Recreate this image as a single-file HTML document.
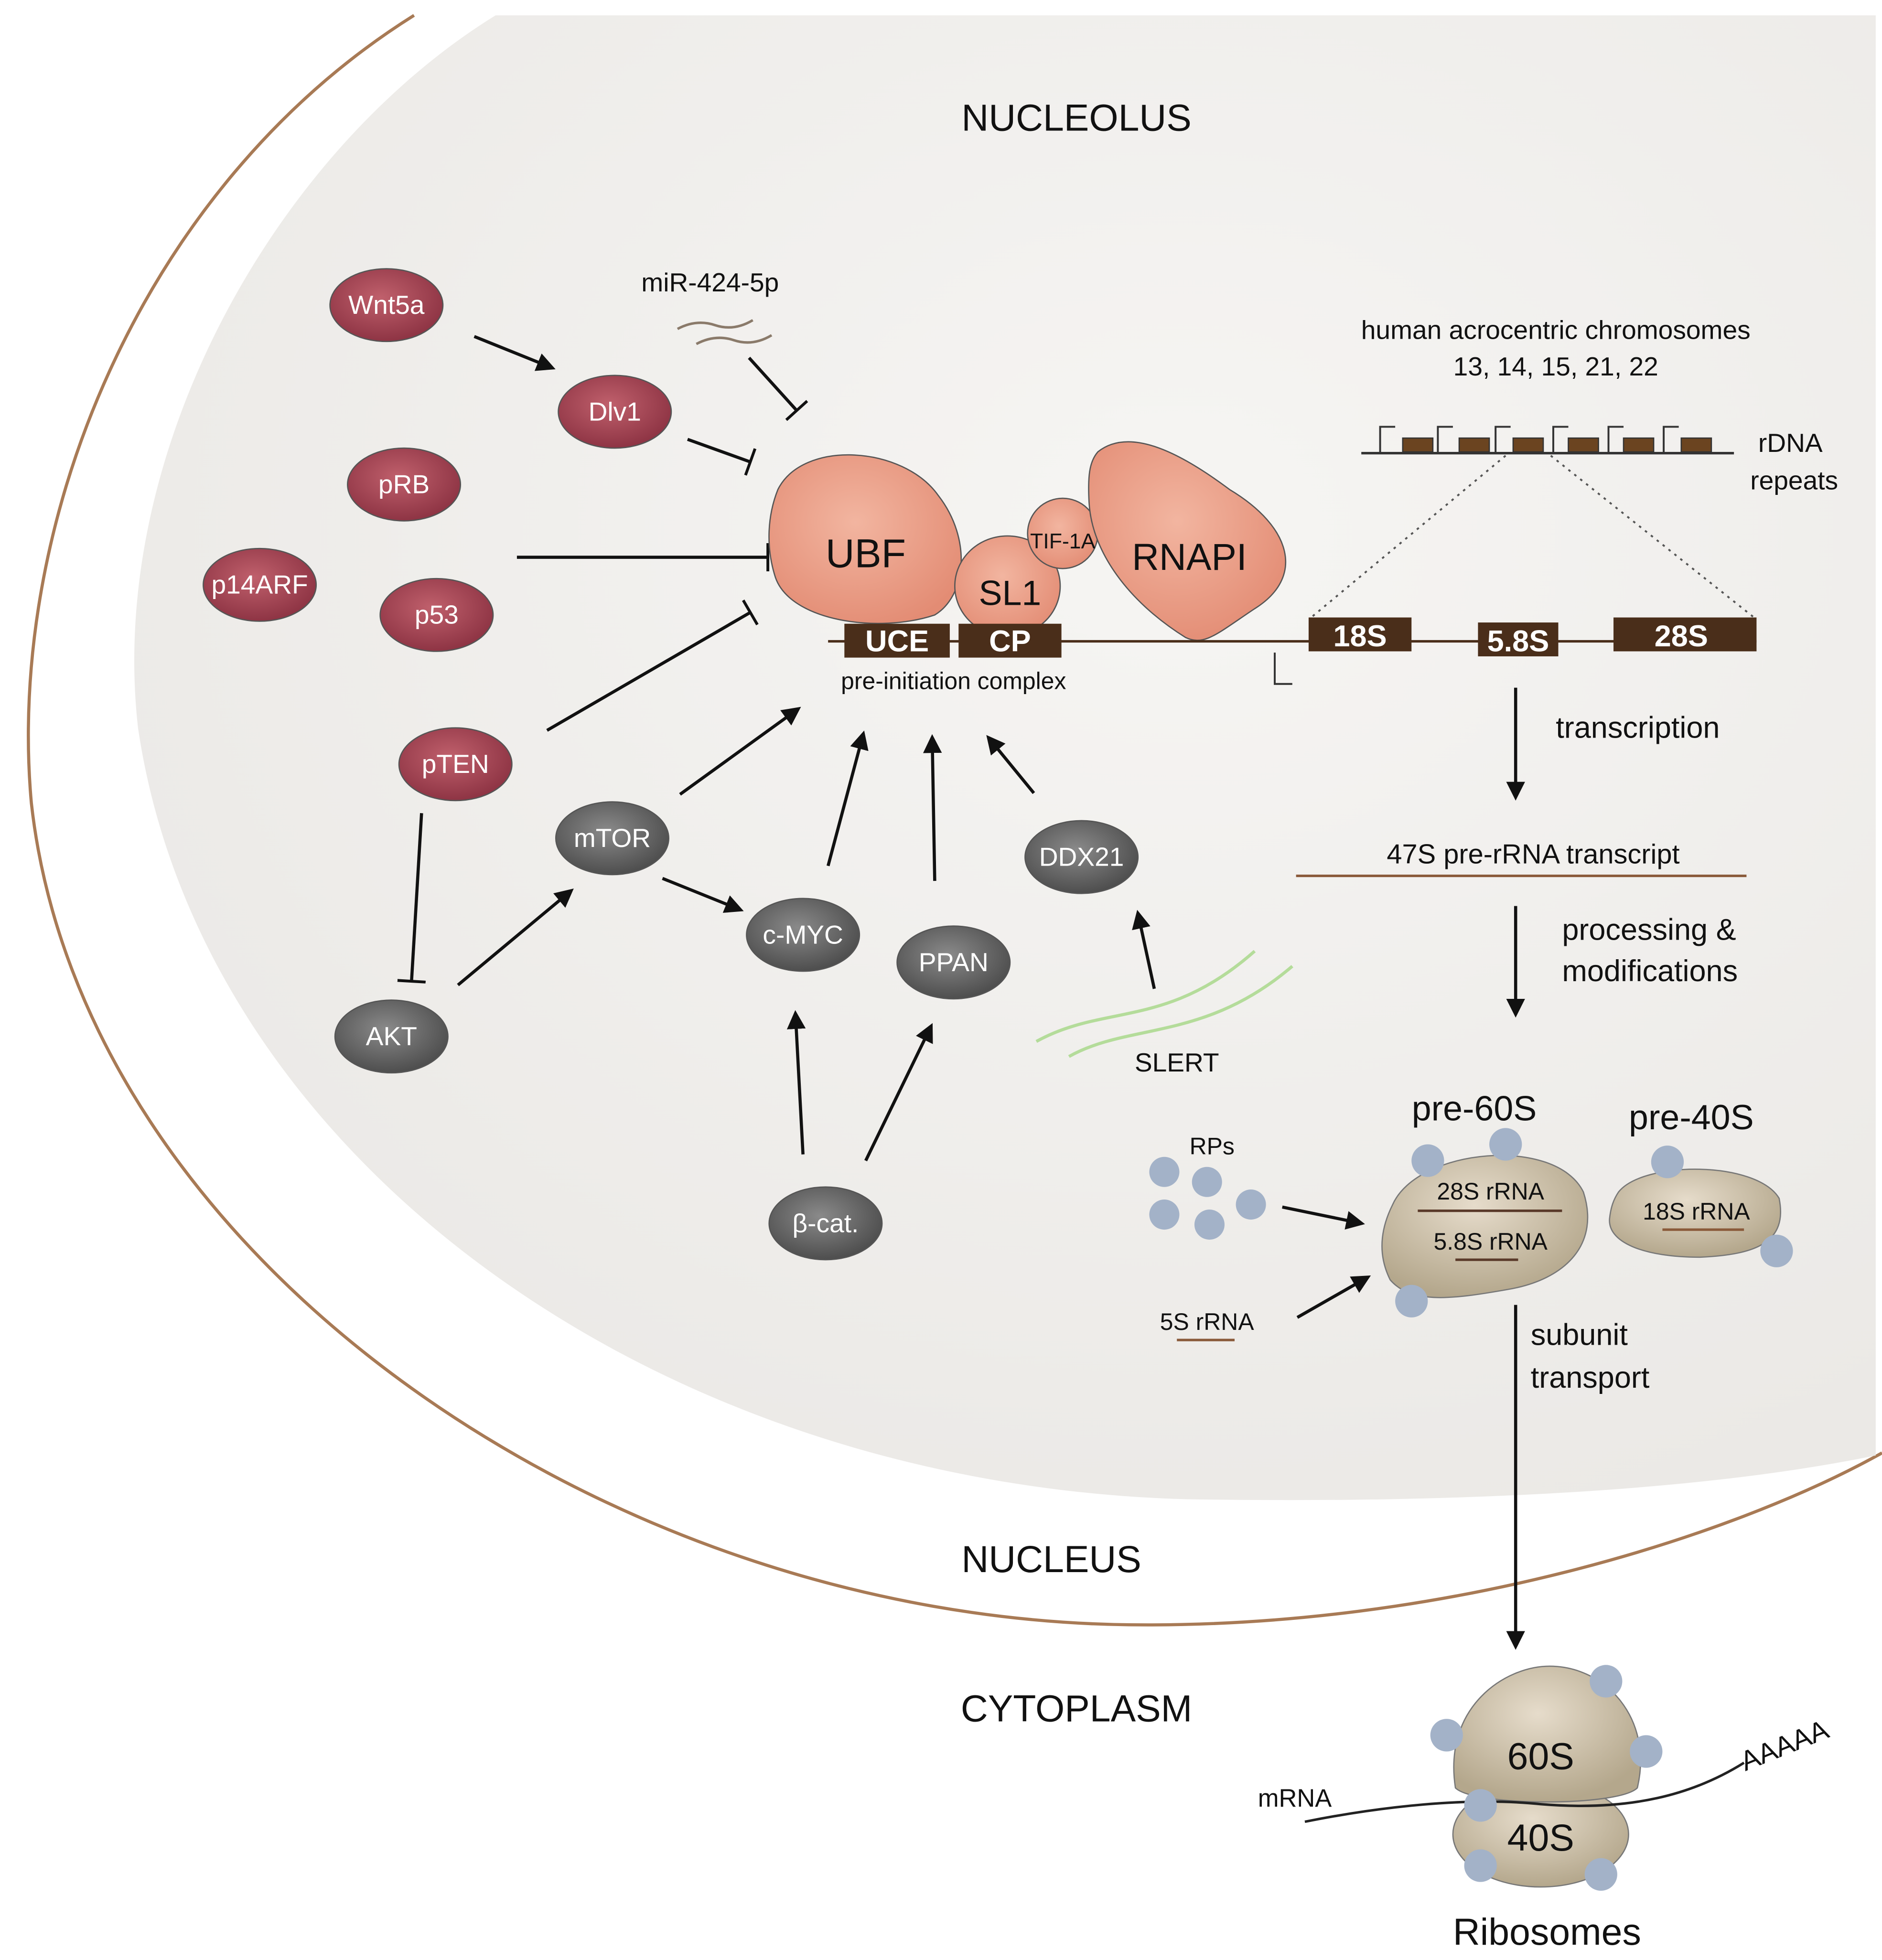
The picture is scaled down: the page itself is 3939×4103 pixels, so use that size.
<!DOCTYPE html>
<html><head><meta charset="utf-8"><style>html,body{margin:0;padding:0;background:#fff}svg{display:block}text{font-family:"Liberation Sans",sans-serif}</style></head><body>
<svg width="3939" height="4103" viewBox="0 0 1500 1562" xmlns="http://www.w3.org/2000/svg">
<defs>
<radialGradient id="red" cx="45%" cy="40%" r="60%"><stop offset="0" stop-color="#c0606c"/><stop offset="1" stop-color="#8e3444"/></radialGradient>
<radialGradient id="gray" cx="45%" cy="40%" r="60%"><stop offset="0" stop-color="#8a8a8a"/><stop offset="1" stop-color="#4e4e4e"/></radialGradient>
<radialGradient id="sal" cx="45%" cy="40%" r="65%"><stop offset="0" stop-color="#f2b5a0"/><stop offset="1" stop-color="#e38c74"/></radialGradient>
<radialGradient id="tan" cx="45%" cy="35%" r="65%"><stop offset="0" stop-color="#e6dccb"/><stop offset="1" stop-color="#b4a78c"/></radialGradient>
<radialGradient id="nuc" cx="60%" cy="35%" r="70%"><stop offset="0" stop-color="#f6f5f3"/><stop offset="1" stop-color="#ebe9e6"/></radialGradient>
<marker id="ar" viewBox="0 0 10 10" refX="8" refY="5" markerWidth="6" markerHeight="6" orient="auto"><path d="M0,0 L10,5 L0,10 z" fill="#111"/></marker>
<marker id="tb" viewBox="0 0 4 20" refX="2" refY="10" markerWidth="3" markerHeight="9" orient="auto"><rect x="1" y="0" width="2" height="20" fill="#111"/></marker>
</defs>
<rect width="1500" height="1562" fill="#fff"/>
<path d="M330,12 C110,150 5,420 25,640 C65,1000 480,1290 900,1295 C1150,1298 1380,1225 1500,1158" fill="none" stroke="#a87a55" stroke-width="2.5"/>
<path d="M395,12 L1495,12 L1495,1160 C1350,1190 1150,1198 950,1195 C520,1185 160,920 110,580 C85,360 220,120 395,12 Z" fill="url(#nuc)"/>
<text x="858" y="104" font-size="30" text-anchor="middle" fill="#111">NUCLEOLUS</text>
<text x="838" y="1253" font-size="30" text-anchor="middle" fill="#111">NUCLEUS</text>
<text x="858" y="1372" font-size="30" text-anchor="middle" fill="#111">CYTOPLASM</text>

<g stroke="#111" stroke-width="2.5" fill="none">
<line x1="378" y1="268" x2="440" y2="293" marker-end="url(#ar)"/>
<line x1="597" y1="285" x2="635" y2="327" marker-end="url(#tb)"/>
<line x1="548" y1="350" x2="598" y2="368" marker-end="url(#tb)"/>
<line x1="412" y1="444" x2="612" y2="444" marker-end="url(#tb)"/>
<line x1="436" y1="582" x2="598" y2="488" marker-end="url(#tb)"/>
<line x1="336" y1="648" x2="328" y2="782" marker-end="url(#tb)"/>
<line x1="365" y1="785" x2="455" y2="710" marker-end="url(#ar)"/>
<line x1="542" y1="633" x2="636" y2="565" marker-end="url(#ar)"/>
<line x1="528" y1="700" x2="590" y2="725" marker-end="url(#ar)"/>
<line x1="660" y1="690" x2="688" y2="585" marker-end="url(#ar)"/>
<line x1="745" y1="702" x2="743" y2="588" marker-end="url(#ar)"/>
<line x1="824" y1="632" x2="788" y2="588" marker-end="url(#ar)"/>
<line x1="920" y1="788" x2="907" y2="728" marker-end="url(#ar)"/>
<line x1="640" y1="920" x2="634" y2="808" marker-end="url(#ar)"/>
<line x1="690" y1="925" x2="742" y2="818" marker-end="url(#ar)"/>
<line x1="1208" y1="548" x2="1208" y2="635" marker-end="url(#ar)"/>
<line x1="1208" y1="722" x2="1208" y2="808" marker-end="url(#ar)"/>
<line x1="1022" y1="962" x2="1085" y2="975" marker-end="url(#ar)"/>
<line x1="1034" y1="1050" x2="1090" y2="1018" marker-end="url(#ar)"/>
<line x1="1208" y1="1040" x2="1208" y2="1312" marker-end="url(#ar)"/>
</g>
<g fill="none" stroke="#8a7a6a" stroke-width="2"><path d="M540,262 q15,-8 30,-3 q15,5 30,-4"/><path d="M555,274 q15,-8 30,-3 q15,5 30,-4"/></g>
<text x="566" y="232" font-size="21" text-anchor="middle" fill="#111">miR-424-5p</text>
<g fill="none" stroke="#b4dc9a" stroke-width="2.5"><path d="M826,830 C880,800 930,820 1000,758"/><path d="M852,842 C900,815 960,830 1030,770"/></g>
<text x="938" y="854" font-size="21" text-anchor="middle" fill="#111">SLERT</text>

<g stroke="#555" stroke-width="1">
<path d="M620,390 C640,350 720,355 748,395 C775,430 770,475 745,490 C700,505 630,495 618,460 C610,435 612,410 620,390Z" fill="url(#sal)"/>
<ellipse cx="803" cy="467" rx="42" ry="40" fill="url(#sal)"/>
<circle cx="847" cy="425" r="28" fill="url(#sal)"/>
<path d="M875,360 C900,340 940,360 980,390 C1030,420 1040,460 1000,485 C970,505 960,515 945,508 C900,480 870,440 868,400 C867,380 868,368 875,360Z" fill="url(#sal)"/>
</g>
<text x="690" y="452" font-size="32" text-anchor="middle" fill="#111">UBF</text>
<text x="805" y="482" font-size="28" text-anchor="middle" fill="#111">SL1</text>
<text x="847" y="437" font-size="17" text-anchor="middle" fill="#111">TIF-1A</text>
<text x="948" y="454" font-size="30" text-anchor="middle" fill="#111">RNAPI</text>
<line x1="660" y1="511" x2="1400" y2="511" stroke="#4a2e1a" stroke-width="2"/>
<g fill="#4a2e1a"><rect x="673" y="497" width="84" height="27"/><rect x="764" y="497" width="82" height="27"/><rect x="1043" y="492" width="82" height="27"/><rect x="1178" y="496" width="64" height="27"/><rect x="1286" y="492" width="114" height="27"/></g>
<g fill="#fff" font-size="24" font-weight="bold" text-anchor="middle"><text x="715" y="519">UCE</text><text x="805" y="519">CP</text><text x="1084" y="515">18S</text><text x="1210" y="519">5.8S</text><text x="1340" y="515">28S</text></g>
<path d="M1016,520 v25 h14" fill="none" stroke="#333" stroke-width="1.5"/>
<text x="760" y="549" font-size="19" text-anchor="middle" fill="#111">pre-initiation complex</text>
<text x="1240" y="270" font-size="21" text-anchor="middle" fill="#111">human acrocentric chromosomes</text>
<text x="1240" y="299" font-size="21" text-anchor="middle" fill="#111">13, 14, 15, 21, 22</text>
<line x1="1085" y1="361" x2="1382" y2="361" stroke="#333" stroke-width="2"/>
<g fill="#6b4420" stroke="#333" stroke-width="1"><rect x="1118" y="349" width="24" height="11"/><rect x="1163" y="349" width="24" height="11"/><rect x="1206" y="349" width="24" height="11"/><rect x="1250" y="349" width="24" height="11"/><rect x="1294" y="349" width="24" height="11"/><rect x="1340" y="349" width="24" height="11"/></g>
<g fill="none" stroke="#333" stroke-width="1.5"><path d="M1100,360 v-20 h12"/><path d="M1146,360 v-20 h12"/><path d="M1192,360 v-20 h12"/><path d="M1238,360 v-20 h12"/><path d="M1282,360 v-20 h12"/><path d="M1326,360 v-20 h12"/></g>
<g stroke="#555" stroke-width="1.5" stroke-dasharray="2,4"><line x1="1200" y1="363" x2="1045" y2="492"/><line x1="1236" y1="363" x2="1398" y2="492"/></g>
<text x="1427" y="360" font-size="21" text-anchor="middle" fill="#111">rDNA</text>
<text x="1430" y="390" font-size="21" text-anchor="middle" fill="#111">repeats</text>
<text x="1240" y="588" font-size="24" fill="#111">transcription</text>
<text x="1222" y="688" font-size="22" text-anchor="middle" fill="#111">47S pre-rRNA transcript</text>
<line x1="1033" y1="698" x2="1392" y2="698" stroke="#8a5a3a" stroke-width="2"/>
<text x="1245" y="749" font-size="24" fill="#111">processing &amp;</text>
<text x="1245" y="782" font-size="24" fill="#111">modifications</text>
<text x="1220" y="1072" font-size="24" fill="#111">subunit</text>
<text x="1220" y="1106" font-size="24" fill="#111">transport</text>

<g stroke="#555" stroke-width="1">
<g fill="url(#red)">
<ellipse cx="308" cy="243" rx="45" ry="29"/><ellipse cx="490" cy="328" rx="45" ry="29"/><ellipse cx="322" cy="386" rx="45" ry="29"/><ellipse cx="207" cy="466" rx="45" ry="29"/><ellipse cx="348" cy="490" rx="45" ry="29"/><ellipse cx="363" cy="609" rx="45" ry="29"/></g>
<g fill="url(#gray)">
<ellipse cx="488" cy="668" rx="45" ry="29"/><ellipse cx="640" cy="745" rx="45" ry="29"/><ellipse cx="760" cy="767" rx="45" ry="29"/><ellipse cx="862" cy="683" rx="45" ry="29"/><ellipse cx="312" cy="826" rx="45" ry="29"/><ellipse cx="658" cy="975" rx="45" ry="29"/></g>
</g>
<g font-size="21" text-anchor="middle" fill="#fff">
<text x="308" y="250">Wnt5a</text><text x="490" y="335">Dlv1</text><text x="322" y="393">pRB</text><text x="207" y="473">p14ARF</text><text x="348" y="497">p53</text><text x="363" y="616">pTEN</text>
<text x="488" y="675">mTOR</text><text x="640" y="752">c-MYC</text><text x="760" y="774">PPAN</text><text x="862" y="690">DDX21</text><text x="312" y="833">AKT</text><text x="658" y="982">β-cat.</text></g>

<g fill="#a3b2c8"><circle cx="928" cy="934" r="12"/><circle cx="962" cy="942" r="12"/><circle cx="928" cy="968" r="12"/><circle cx="964" cy="976" r="12"/><circle cx="997" cy="960" r="12"/></g>
<text x="966" y="920" font-size="19" text-anchor="middle" fill="#111">RPs</text>
<text x="962" y="1060" font-size="19" text-anchor="middle" fill="#111">5S rRNA</text>
<line x1="938" y1="1068" x2="984" y2="1068" stroke="#8a5a3a" stroke-width="2"/>
<path d="M1110,960 C1130,915 1240,905 1262,950 C1275,990 1250,1020 1200,1028 C1160,1035 1125,1040 1108,1020 C1098,1000 1100,980 1110,960Z" fill="url(#tan)" stroke="#777"/>
<path d="M1290,950 C1310,925 1400,925 1418,955 C1425,990 1400,1000 1355,1002 C1310,1002 1280,990 1283,970 C1284,962 1286,956 1290,950Z" fill="url(#tan)" stroke="#777"/>
<text x="1175" y="893" font-size="28" text-anchor="middle" fill="#111">pre-60S</text>
<text x="1348" y="900" font-size="28" text-anchor="middle" fill="#111">pre-40S</text>
<text x="1188" y="956" font-size="19" text-anchor="middle" fill="#111">28S rRNA</text>
<line x1="1130" y1="965" x2="1245" y2="965" stroke="#5a3a2a" stroke-width="2"/>
<text x="1188" y="996" font-size="19" text-anchor="middle" fill="#111">5.8S rRNA</text>
<line x1="1160" y1="1004" x2="1210" y2="1004" stroke="#5a3a2a" stroke-width="2"/>
<text x="1352" y="972" font-size="19" text-anchor="middle" fill="#111">18S rRNA</text>
<line x1="1325" y1="980" x2="1390" y2="980" stroke="#8a5a3a" stroke-width="2"/>
<g fill="#a3b2c8"><circle cx="1138" cy="925" r="13"/><circle cx="1200" cy="912" r="13"/><circle cx="1125" cy="1037" r="13"/><circle cx="1329" cy="926" r="13"/><circle cx="1416" cy="997" r="13"/></g>

<ellipse cx="1228" cy="1462" rx="70" ry="42" fill="url(#tan)" stroke="#777"/>
<path d="M1160,1425 C1150,1360 1200,1328 1235,1328 C1280,1328 1318,1370 1305,1425 C1290,1440 1175,1440 1160,1425Z" fill="url(#tan)" stroke="#777"/>
<path d="M1040,1452 C1100,1440 1170,1432 1228,1438 C1300,1444 1350,1430 1390,1405" fill="none" stroke="#222" stroke-width="2"/>
<text x="1228" y="1410" font-size="30" text-anchor="middle" fill="#111">60S</text>
<text x="1228" y="1475" font-size="30" text-anchor="middle" fill="#111">40S</text>
<g fill="#a3b2c8"><circle cx="1280" cy="1340" r="13"/><circle cx="1153" cy="1383" r="13"/><circle cx="1312" cy="1396" r="13"/><circle cx="1180" cy="1439" r="13"/><circle cx="1180" cy="1487" r="13"/><circle cx="1276" cy="1494" r="13"/></g>
<text x="1032" y="1440" font-size="20" text-anchor="middle" fill="#111">mRNA</text>
<text x="1425" y="1398" font-size="22" text-anchor="middle" fill="#111" transform="rotate(-22 1425 1398)">AAAAA</text>
<text x="1233" y="1550" font-size="30" text-anchor="middle" fill="#111">Ribosomes</text>
</svg>
</body></html>
